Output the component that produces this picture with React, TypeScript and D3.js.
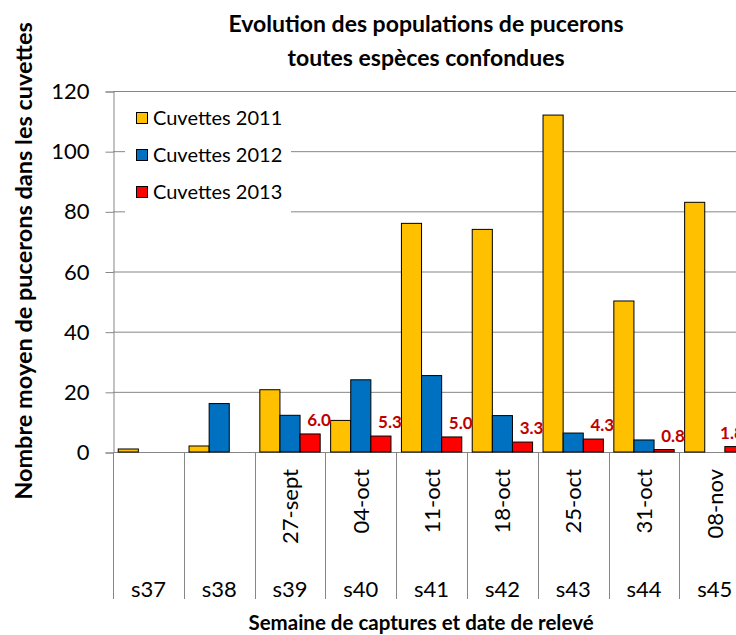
import { useEffect, useRef } from "react";
import * as d3 from "d3";

// ── Data ──────────────────────────────────────────────────────────────────────

const WEEKS = ["s37", "s38", "s39", "s40", "s41", "s42", "s43", "s44", "s45"];
const DATES = ["", "", "27-sept", "04-oct", "11-oct", "18-oct", "25-oct", "31-oct", "08-nov"];

const VALUES_2011: (number | null)[] = [1, 2, 20.7, 10.5, 76, 74, 112, 50.2, 83];
const VALUES_2012: (number | null)[] = [null, 16.1, 12.2, 24, 25.4, 12.1, 6.3, 4, null];
const VALUES_2013: (number | null)[] = [null, null, 6.0, 5.3, 5.0, 3.3, 4.3, 0.8, 1.8];

const SERIES_NAMES = ["Cuvettes 2011", "Cuvettes 2012", "Cuvettes 2013"];
const Y_TICKS = [0, 20, 40, 60, 80, 100, 120];

// ── Config ────────────────────────────────────────────────────────────────────

const W = 736;
const H = 635;
const COLORS = ["#FFC000", "#0070C0", "#FF0000"];
const LABEL_COLOR = "#C00000";
const GRID = "#868686";
const FONT = "Lato, 'Open Sans', sans-serif";

const PLOT = { left: 113, top: 91, bottom: 452, bandWidth: 70.8 };

// ── Component ─────────────────────────────────────────────────────────────────

const App = () => {
  const svgRef = useRef<SVGSVGElement>(null);

  useEffect(() => {
    document.body.style.margin = "0";
    if (!svgRef.current) return;
    const svg = d3.select(svgRef.current);
    svg.selectAll("*").remove();

    const right = PLOT.left + PLOT.bandWidth * WEEKS.length;

    const x = d3.scaleBand<string>()
      .domain(WEEKS)
      .range([PLOT.left, right])
      .paddingInner(0)
      .paddingOuter(0);

    const inner = d3.scaleBand<string>()
      .domain(SERIES_NAMES)
      .range([0, x.bandwidth()])
      .paddingOuter(0.26)
      .paddingInner(0);

    const y = d3.scaleLinear().domain([0, 120]).range([PLOT.bottom, PLOT.top]);

    // Grid lines
    svg.append("g")
      .selectAll("line")
      .data(Y_TICKS.filter((t) => t > 0))
      .join("line")
      .attr("x1", PLOT.left)
      .attr("x2", right)
      .attr("y1", (d) => y(d) + 0.5)
      .attr("y2", (d) => y(d) + 0.5)
      .attr("stroke", GRID)
      .attr("stroke-width", 1);

    // Y axis
    const yAxis = svg.append("g")
      .attr("transform", `translate(${PLOT.left + 0.5},0.5)`)
      .call(d3.axisLeft(y).tickValues(Y_TICKS).tickSize(8).tickPadding(16));
    yAxis.select(".domain").attr("stroke", GRID);
    yAxis.selectAll(".tick line").attr("stroke", GRID);
    yAxis.selectAll("text")
      .attr("font-family", FONT)
      .attr("font-size", "22px")
      .attr("fill", "#000");

    // Category axis: band boundaries extend down
    const bounds = WEEKS.map((w) => x(w) as number).concat([right]);
    svg.append("g")
      .selectAll("line")
      .data(bounds)
      .join("line")
      .attr("x1", (d) => Math.round(d) + 0.5)
      .attr("x2", (d) => Math.round(d) + 0.5)
      .attr("y1", PLOT.bottom)
      .attr("y2", 599)
      .attr("stroke", GRID);

    svg.append("line")
      .attr("x1", PLOT.left)
      .attr("x2", right)
      .attr("y1", PLOT.bottom + 0.5)
      .attr("y2", PLOT.bottom + 0.5)
      .attr("stroke", GRID);

    // Bars
    const allSeries = [VALUES_2011, VALUES_2012, VALUES_2013];
    allSeries.forEach((vals, si) => {
      const name = SERIES_NAMES[si];
      svg.append("g")
        .selectAll("rect")
        .data(WEEKS.map((w, i) => ({ w, v: vals[i] })).filter((d) => d.v != null && (d.v as number) > 0))
        .join("rect")
        .attr("x", (d) => (x(d.w) as number) + (inner(name) as number))
        .attr("y", (d) => y(d.v as number))
        .attr("width", inner.bandwidth())
        .attr("height", (d) => PLOT.bottom - y(d.v as number))
        .attr("fill", COLORS[si])
        .attr("stroke", "#000")
        .attr("stroke-width", 1);
    });

    // Data labels for 2013 (pulled back at the right edge like the original)
    svg.append("g")
      .selectAll("text")
      .data(WEEKS.map((w, i) => ({ w, v: VALUES_2013[i] })).filter((d) => d.v != null))
      .join("text")
      .attr("x", (d) => Math.min(
        (x(d.w) as number) + (inner(SERIES_NAMES[2]) as number) + inner.bandwidth() / 2 + 9,
        W - 4
      ))
      .attr("y", (d) => y(d.v as number) - 8)
      .attr("text-anchor", "middle")
      .attr("font-family", FONT)
      .attr("font-weight", "bold")
      .attr("font-size", "17px")
      .attr("fill", LABEL_COLOR)
      .text((d) => (d.v as number).toFixed(1));

    // Category labels
    svg.append("g")
      .selectAll("text")
      .data(WEEKS)
      .join("text")
      .attr("x", (d) => (x(d) as number) + x.bandwidth() / 2)
      .attr("y", 597)
      .attr("text-anchor", "middle")
      .attr("font-family", FONT)
      .attr("font-size", "22px")
      .attr("fill", "#000")
      .text((d) => d);

    svg.append("g")
      .selectAll("text")
      .data(WEEKS.map((w, i) => ({ w, d: DATES[i] })).filter((d) => d.d))
      .join("text")
      .attr("transform", (d) => `translate(${(x(d.w) as number) + x.bandwidth() / 2 + 8},469) rotate(-90)`)
      .attr("text-anchor", "end")
      .attr("font-family", FONT)
      .attr("font-size", "22px")
      .attr("fill", "#000")
      .text((d) => d.d);

    // Legend
    const legend = svg.append("g");
    legend.append("rect")
      .attr("x", 125).attr("y", 98).attr("width", 166).attr("height", 116)
      .attr("fill", "#fff");
    SERIES_NAMES.forEach((name, i) => {
      const cy = 118 + i * 37;
      legend.append("rect")
        .attr("x", 136.5).attr("y", cy - 5.5).attr("width", 11).attr("height", 11)
        .attr("fill", COLORS[i]).attr("stroke", "#000");
      legend.append("text")
        .attr("x", 153).attr("y", cy + 7)
        .attr("font-family", FONT)
        .attr("font-size", "20px")
        .attr("fill", "#000")
        .text(name);
    });

    // Titles
    const title = svg.append("text")
      .attr("text-anchor", "middle")
      .attr("font-family", FONT)
      .attr("font-weight", "bold")
      .attr("font-size", "23px")
      .attr("fill", "#000");
    title.append("tspan").attr("x", 426).attr("y", 32).text("Evolution des populations de pucerons");
    title.append("tspan").attr("x", 426).attr("y", 66).text("toutes espèces confondues");

    svg.append("text")
      .attr("x", 421).attr("y", 630)
      .attr("text-anchor", "middle")
      .attr("font-family", FONT)
      .attr("font-weight", "bold")
      .attr("font-size", "20.5px")
      .attr("fill", "#000")
      .text("Semaine de captures et date de relevé");

    svg.append("text")
      .attr("transform", "translate(32,261) rotate(-90)")
      .attr("text-anchor", "middle")
      .attr("font-family", FONT)
      .attr("font-weight", "bold")
      .attr("font-size", "23.5px")
      .attr("fill", "#000")
      .text("Nombre moyen de pucerons dans les cuvettes");
  }, []);

  return <svg ref={svgRef} width={W} height={H} style={{ display: "block", background: "#fff" }} />;
};

export default App;
